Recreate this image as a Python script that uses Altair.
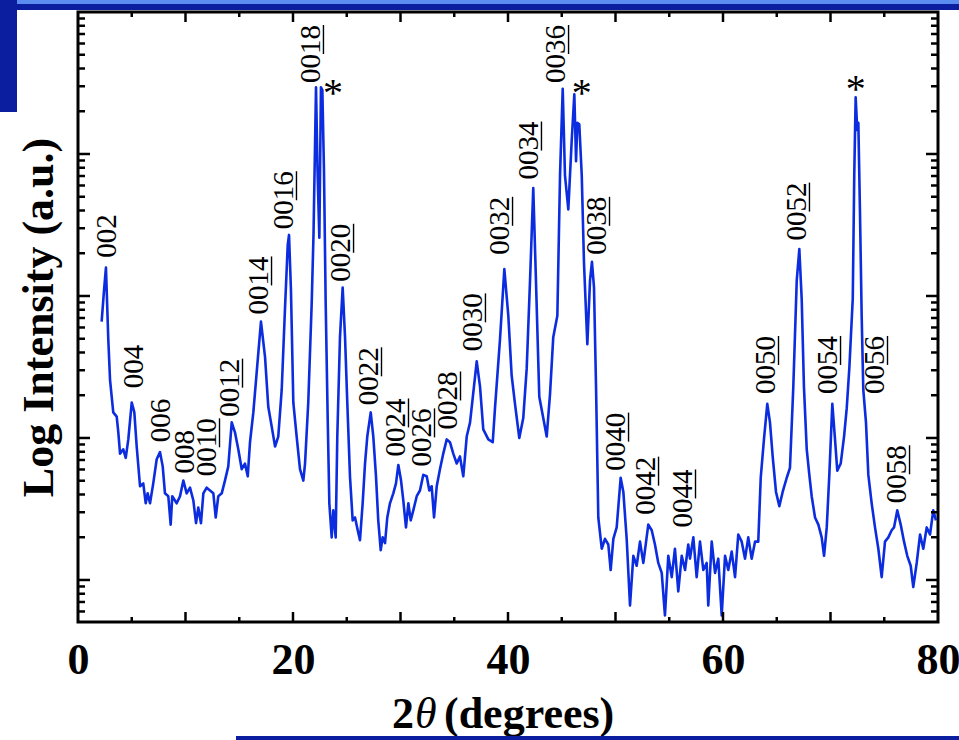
import altair as alt
import pandas as pd

# ---------------------------------------------------------------- data
# 2-theta scan (degrees) and log10 of the measured intensity
two_theta = [
    2.20, 2.42, 2.60, 2.82, 2.98, 3.28, 3.60, 3.75, 3.91, 4.21,
    4.44, 4.68, 5.00, 5.24, 5.46, 5.77, 6.07, 6.30, 6.48, 6.70,
    7.00, 7.32, 7.63, 7.88, 8.09, 8.40, 8.62, 8.77, 9.18, 9.49,
    9.80, 10.11, 10.42, 10.73, 10.98, 11.19, 11.44, 11.66, 11.97, 12.28,
    12.59, 12.81, 13.05, 13.37, 13.67, 13.98, 14.30, 14.60, 14.91, 15.23,
    15.53, 15.79, 16.00, 16.31, 16.62, 17.02, 17.40, 17.70, 18.02, 18.33,
    18.63, 18.95, 19.26, 19.51, 19.63, 19.81, 20.03, 20.34, 20.65, 20.96,
    21.12, 21.42, 21.74, 21.91, 22.14, 22.28, 22.45, 22.60, 22.73, 22.88,
    23.04, 23.23, 23.38, 23.60, 23.75, 23.97, 24.12, 24.37, 24.62, 24.84,
    25.05, 25.30, 25.55, 25.77, 26.02, 26.23, 26.48, 26.70, 26.91, 27.23,
    27.47, 27.72, 27.93, 28.16, 28.34, 28.56, 28.77, 29.02, 29.33, 29.58,
    29.80, 30.05, 30.26, 30.51, 30.73, 30.95, 31.19, 31.51, 31.81, 32.12,
    32.44, 32.68, 32.90, 33.12, 33.37, 33.67, 33.98, 34.30, 34.60, 34.91,
    35.23, 35.53, 35.84, 36.16,
    36.47, 37.09, 37.40, 37.70, 38.17, 38.58, 38.79, 39.26, 39.66, 40.03,
    40.34, 40.65, 41.05, 41.42, 41.74, 42.05, 42.35, 42.60, 42.91, 43.28,
    43.60, 43.91, 44.21, 44.59, 44.84, 45.09, 45.30, 45.61, 45.93, 46.17,
    46.33, 46.45, 46.63, 46.86, 47.07, 47.38, 47.63, 47.81, 48.00, 48.19,
    48.40, 48.72, 49.02, 49.33, 49.55, 49.80, 50.11, 50.48, 50.73, 51.04,
    51.35, 51.66, 51.97, 52.28, 52.59, 53.05, 53.37, 53.67, 53.98, 54.30,
    54.60, 54.91, 55.23, 55.53, 55.84, 56.16, 56.47, 56.77,
    56.93, 57.24, 57.55, 57.86, 58.17, 58.48, 58.63, 58.95, 59.26, 59.56,
    59.88, 60.19, 60.49, 60.81, 61.12, 61.42, 61.74, 62.05, 62.35, 62.67,
    62.98, 63.28, 63.51, 63.81, 64.12, 64.37, 64.62, 64.93, 65.24, 65.55,
    65.93, 66.23, 66.54, 66.86, 67.10, 67.32, 67.53, 67.79, 68.03, 68.25,
    68.56, 68.87, 69.18, 69.40, 69.65, 69.89, 70.17, 70.42, 70.63, 70.95,
    71.26, 71.51, 71.75, 72.07, 72.21, 72.34, 72.49, 72.59, 72.74, 72.90,
    73.05, 73.30, 73.52, 73.83, 74.14, 74.45, 74.76, 75.07, 75.38, 75.69,
    75.91, 76.21, 76.53, 76.84, 77.14, 77.46, 77.70, 78.02, 78.33, 78.63,
    78.95, 79.26, 79.56, 79.81,
]
log_intensity = [
    2.82, 3.04, 3.20, 2.69, 2.41, 2.18, 2.15, 2.04, 1.89, 1.92,
    1.86, 1.99, 2.25, 2.18, 1.94, 1.66, 1.68, 1.54, 1.61, 1.54,
    1.68, 1.85, 1.90, 1.80, 1.61, 1.59, 1.39, 1.59, 1.54, 1.59,
    1.70, 1.61, 1.65, 1.56, 1.40, 1.51, 1.40, 1.61, 1.65, 1.63,
    1.61, 1.44, 1.59, 1.61, 1.70, 1.80, 2.11, 2.04, 1.92, 1.78,
    1.82, 1.73, 1.97, 2.18, 2.46, 2.82, 2.57, 2.22, 2.08, 1.94,
    2.01, 2.34, 2.92, 3.36, 3.43, 3.04, 2.25, 2.01, 1.78, 1.70,
    1.82, 2.25, 2.95, 3.44, 4.47, 3.89, 3.41, 4.47, 4.45, 3.89,
    2.95, 2.13, 1.54, 1.30, 1.49, 1.30, 2.01, 2.71, 3.06, 2.71,
    2.25, 1.73, 1.42, 1.44, 1.35, 1.28, 1.54, 1.82, 2.01, 2.18,
    2.01, 1.73, 1.42, 1.21, 1.30, 1.26, 1.44, 1.54, 1.61, 1.68,
    1.81, 1.70, 1.56, 1.37, 1.54, 1.42, 1.49, 1.59, 1.63, 1.74,
    1.73, 1.63, 1.66, 1.44, 1.66, 1.78, 1.89, 1.99, 1.97, 1.89,
    1.82, 1.87, 1.73, 2.01,
    2.11, 2.54, 2.36, 2.06, 1.99, 1.97, 2.21, 2.70, 3.19, 2.86,
    2.44, 2.24, 2.00, 2.14, 2.49, 3.11, 3.76, 3.11, 2.29, 2.14,
    2.01, 2.31, 2.71, 2.86, 3.85, 4.46, 3.85, 3.61, 4.10, 4.42,
    3.95, 4.22, 4.21, 3.85, 3.23, 2.66, 3.11, 3.24, 3.06, 2.36,
    1.44, 1.22, 1.29, 1.25, 1.07, 1.29, 1.37, 1.72, 1.62, 1.29,
    0.82, 1.17, 1.10, 1.27, 1.12, 1.39, 1.35, 1.25, 1.12, 1.05,
    0.75, 1.17, 1.02, 1.22, 0.92, 1.17, 1.07, 1.25,
    1.15, 1.30, 1.02, 1.27, 1.07, 1.12, 0.82, 1.27, 1.05, 1.15,
    0.75, 1.17, 1.07, 1.20, 1.02, 1.32, 1.27, 1.15, 1.30, 1.15,
    1.27, 1.27, 1.72, 1.99, 2.24, 2.11, 1.87, 1.62, 1.52, 1.62,
    1.72, 1.79, 2.36, 3.11, 3.33, 2.98, 2.36, 1.92, 1.74, 1.59,
    1.44, 1.39, 1.30, 1.17, 1.37, 1.74, 2.24, 1.99, 1.77, 1.82,
    2.01, 2.21, 2.49, 2.98, 3.85, 4.40, 4.17, 4.22, 3.60, 2.86,
    2.34, 2.11, 1.74, 1.54, 1.37, 1.22, 1.02, 1.27, 1.30, 1.35,
    1.37, 1.49, 1.39, 1.27, 1.17, 1.10, 0.95, 1.12, 1.32, 1.22,
    1.37, 1.32, 1.49, 1.42,
]

# (00l) reflections: index, 2-theta of the label and log10 level where it starts
peak_index = ["002", "004", "006", "008", "0010", "0012", "0014", "0016",
              "0018", "0020", "0022", "0024", "0026", "0028", "0030", "0032",
              "0034", "0036", "0038", "0040", "0042", "0044", "0050", "0052",
              "0054", "0056", "0058"]
peak_theta = [2.70, 5.21, 7.72, 9.95, 12.00, 14.14, 16.84, 19.16,
              21.67, 24.47, 27.07, 29.58, 32.00, 34.42, 36.74, 39.26,
              41.95, 44.47, 48.28, 50.05, 52.84, 56.28, 64.00, 66.88,
              69.77, 74.14, 76.19]
peak_log = [3.27, 2.35, 1.97, 1.75, 1.73, 2.15, 2.87, 3.47,
            4.50, 3.10, 2.23, 1.87, 1.80, 2.06, 2.61, 3.29,
            3.82, 4.50, 3.29, 1.77, 1.46, 1.37, 2.31, 3.39,
            2.31, 2.31, 1.54]

# substrate reflections marked with an asterisk
star_theta = [23.72, 46.86, 72.34]
star_log = [4.42, 4.42, 4.45]

x_label_values = [0, 20, 40, 60, 80]
x_major_ticks = [10, 20, 30, 40, 50, 60, 70]
x_minor_ticks = [5, 15, 25, 35, 45, 55, 65, 75]
y_major_ticks = [10, 100, 1000, 10000]
y_minor_ticks = [k * 10 ** n for n in range(0, 5) for k in range(2, 10)
                 if 6 <= k * 10 ** n < 100000]

# ---------------------------------------------------------------- style
SERIF = "Liberation Serif"
LINE_BLUE = "#0c2ddf"
SLIDE_DARK = "#0b1e9f"
SLIDE_LIGHT = "#5b8cf0"
W, H = 860, 610
LABEL_SIZE = 29
DIGIT = LABEL_SIZE * 0.5          # advance of one digit in the label font

spec_df = pd.DataFrame({"two_theta": two_theta,
                        "intensity": [10 ** v for v in log_intensity]})
label_df = pd.DataFrame({"two_theta": peak_theta,
                         "intensity": [10 ** v for v in peak_log],
                         "label": peak_index})
# the two-digit l index of the longer labels is underlined
under_df = label_df[label_df["label"].str.len() == 4]
star_df = pd.DataFrame({"two_theta": star_theta,
                        "intensity": [10 ** v for v in star_log],
                        "mark": ["*"] * len(star_theta)})

x_scale = alt.Scale(domain=[0, 80], nice=False, zero=False)
y_scale = alt.Scale(type="log", domain=[10 ** 0.704, 1e5], nice=False)

x_axis = alt.Axis(values=x_label_values, format="d", labelFont=SERIF,
                  labelFontWeight="bold", labelFontSize=44, labelColor="black",
                  labelBaseline="alphabetic", labelPadding=51, labelFlush=False,
                  labelOverlap=False, ticks=False, tickSize=0, domain=False,
                  grid=False, title=None)
y_axis = alt.Axis(labels=False, ticks=False, tickSize=0, domain=False,
                  grid=False, title="Log Intensity (a.u.)", titleFont=SERIF,
                  titleFontSize=44, titleFontWeight="bold", titleColor="black",
                  titlePadding=17)


def X():
    return alt.X("two_theta:Q", scale=x_scale, axis=x_axis)


def Y():
    return alt.Y("intensity:Q", scale=y_scale, axis=y_axis)


spectrum = alt.Chart(spec_df).mark_line(
    color=LINE_BLUE, strokeWidth=2.6, clip=True, strokeJoin="round"
).encode(x=X(), y=Y())

labels = alt.Chart(label_df).mark_text(
    angle=270, align="left", baseline="middle", font=SERIF,
    fontSize=LABEL_SIZE, color="black"
).encode(x=X(), y=Y(), text="label:N")

underlines = alt.Chart(under_df).mark_rule(
    color="black", strokeWidth=1.4, xOffset=12.5,
    yOffset=-2 * DIGIT, y2Offset=-4 * DIGIT
).encode(x=X(), y=Y(), y2="intensity:Q")

stars = alt.Chart(star_df).mark_text(
    align="center", baseline="middle", font=SERIF, fontSize=40, color="black"
).encode(x=X(), y=Y(), text="mark:N")


def x_ticks(values, length):
    d = pd.DataFrame({"two_theta": values})
    bottom = alt.Chart(d).mark_rule(color="black", strokeWidth=2.5).encode(
        x=X(), y=alt.value(H), y2=alt.value(H - length))
    top = alt.Chart(d).mark_rule(color="black", strokeWidth=2.5).encode(
        x=X(), y=alt.value(0), y2=alt.value(length))
    return [bottom, top]


def y_ticks(values, length):
    d = pd.DataFrame({"intensity": values})
    left = alt.Chart(d).mark_rule(color="black", strokeWidth=2.5).encode(
        y=Y(), x=alt.value(0), x2=alt.value(length))
    right = alt.Chart(d).mark_rule(color="black", strokeWidth=2.5).encode(
        y=Y(), x=alt.value(W), x2=alt.value(W - length))
    return [left, right]


ticks = (x_ticks(x_major_ticks, 10) + x_ticks(x_minor_ticks, 5)
         + y_ticks(y_major_ticks, 12) + y_ticks(y_minor_ticks, 7))

# x title: "2", an italic theta, then "(degrees)"
one = pd.DataFrame({"t": [0]})
title_parts = [
    alt.Chart(one).mark_text(text="2", align="left", baseline="alphabetic",
                             font=SERIF, fontSize=44, fontWeight="bold",
                             color="black").encode(x=alt.value(314), y=alt.value(716)),
    alt.Chart(one).mark_text(text="\u03b8", align="left", baseline="alphabetic",
                             font=SERIF, fontSize=44, fontStyle="italic",
                             color="black").encode(x=alt.value(337), y=alt.value(716)),
    alt.Chart(one).mark_text(text="(degrees)", align="left", baseline="alphabetic",
                             font=SERIF, fontSize=44, fontWeight="bold",
                             color="black").encode(x=alt.value(366), y=alt.value(716)),
]

# slide frame around the figure
slide = [
    alt.Chart(one).mark_rect(color=SLIDE_DARK).encode(
        x=alt.value(-78), x2=alt.value(881), y=alt.value(-12), y2=alt.value(-2)),
    alt.Chart(one).mark_rect(color=SLIDE_LIGHT).encode(
        x=alt.value(-78), x2=alt.value(881), y=alt.value(-12), y2=alt.value(-8)),
    alt.Chart(one).mark_rect(color=SLIDE_DARK).encode(
        x=alt.value(-78), x2=alt.value(-61), y=alt.value(-12), y2=alt.value(100)),
    alt.Chart(one).mark_rect(color=SLIDE_DARK).encode(
        x=alt.value(158), x2=alt.value(881), y=alt.value(724), y2=alt.value(728)),
]

chart = alt.layer(
    spectrum, labels, underlines, stars, *ticks, *title_parts, *slide
).properties(
    width=W, height=H,
    autosize=alt.AutoSizeParams(type="none"),
    padding={"left": 78, "top": 12, "right": 21, "bottom": 118},
    background="white",
).configure_view(
    stroke="black", strokeWidth=3
)

chart.save("out.html", embed_options={"renderer": "svg", "actions": False})
